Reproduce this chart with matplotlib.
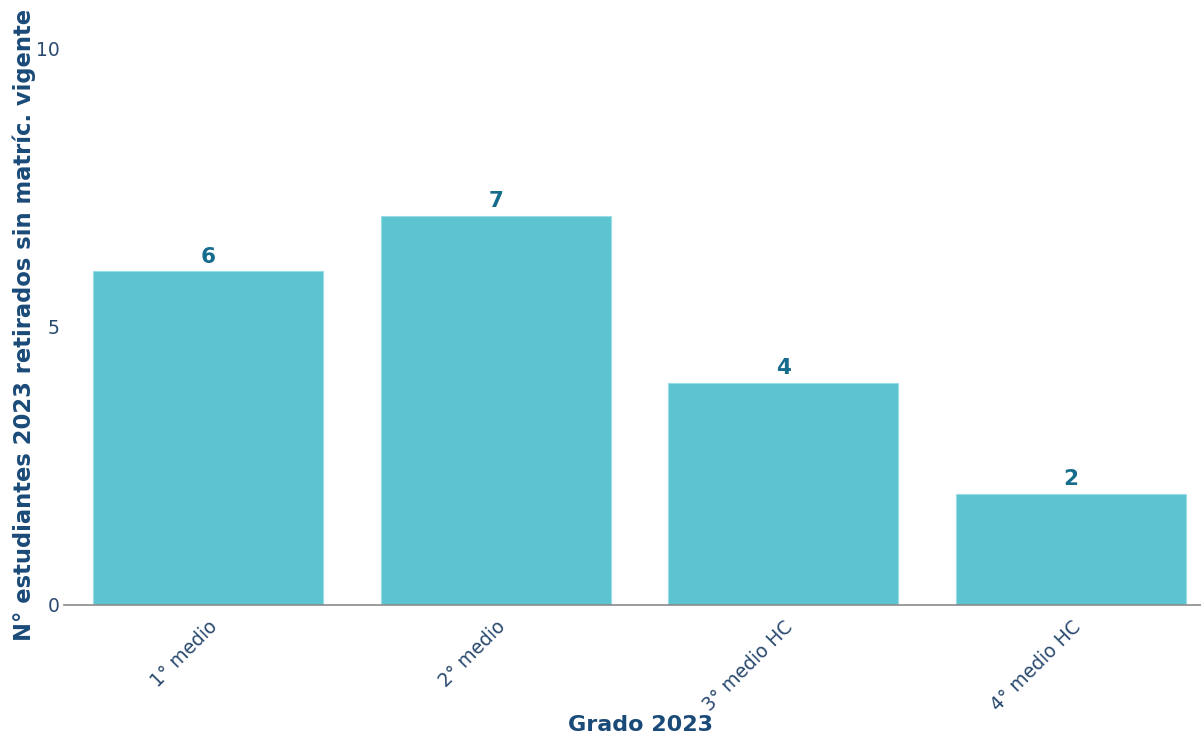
import matplotlib.pyplot as plt

# Data
grados = ["1° medio", "2° medio", "3° medio HC", "4° medio HC"]
retirados = [6, 7, 4, 2]
y_ticks = [0, 5, 10]

BAR_COLOR = "#5BC4D0"
TITLE_COLOR = "#1A4A78"
TICK_COLOR = "#2A4A70"
LABEL_COLOR = "#156C8C"

plt.rcParams['font.family'] = ['DejaVu Sans']

fig = plt.figure(figsize=(12.01, 7.39), dpi=100)
W, H = 1201, 739
# plot area (pixel coords): x 64..1215 (cut by figure edge), y 49..605
ax = fig.add_axes([64 / W, (H - 605) / H, 1151 / W, 556 / H])

x = range(len(grados))
bars = ax.bar(x, retirados, width=0.8, color=BAR_COLOR, edgecolor="#9ADCE3", linewidth=0.8)

for xi, v in zip(x, retirados):
    ax.text(xi, v + 0.08, str(v), ha="center", va="bottom",
            fontsize=15.5, fontweight="bold", color=LABEL_COLOR)

ax.set_xlim(-0.5, 3.5)
ax.set_ylim(0, 10)
ax.set_yticks(y_ticks)
ax.set_xticks(list(x))
ax.set_xticklabels(grados, rotation=45, ha="right", rotation_mode="anchor")

ax.tick_params(axis="both", length=0, labelsize=13.5, colors=TICK_COLOR)
ax.tick_params(axis="x", pad=9)
ax.tick_params(axis="y", pad=3)

for side in ["top", "right", "left"]:
    ax.spines[side].set_visible(False)
ax.spines["bottom"].set_color("#8A8A8A")
ax.spines["bottom"].set_linewidth(1.2)

fig.text(640 / W, 1 - 725 / H, "Grado 2023", ha="center", va="center",
         fontsize=16, fontweight="bold", color=TITLE_COLOR)
fig.text(24 / W, 1 - 325 / H, "N° estudiantes 2023 retirados sin matríc. vigente",
         ha="center", va="center", rotation=90,
         fontsize=16.3, fontweight="bold", color=TITLE_COLOR)

plt.savefig("out.png", dpi=100)
plt.close()
